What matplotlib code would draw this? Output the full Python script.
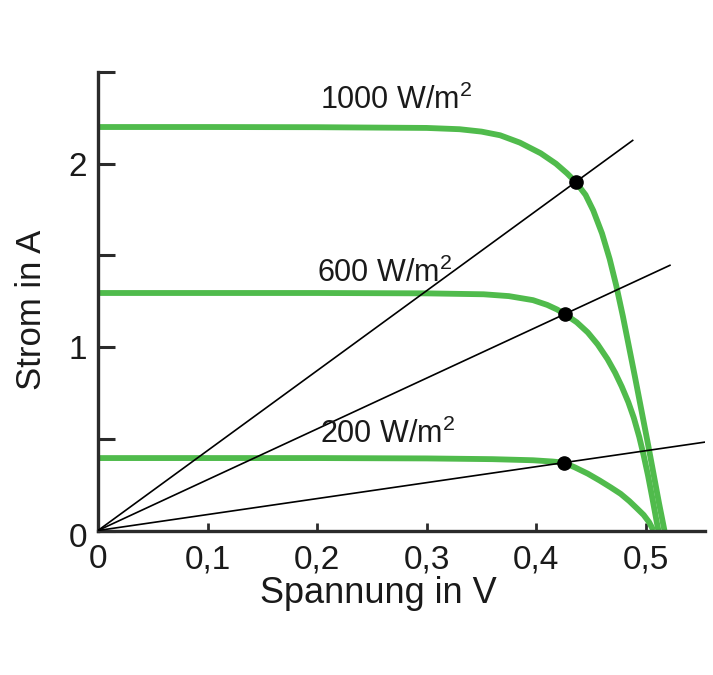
import matplotlib.pyplot as plt
from matplotlib.ticker import FixedLocator, FuncFormatter

plt.rcParams['font.family'] = ['Liberation Sans', 'DejaVu Sans']
plt.rcParams['mathtext.default'] = 'regular'

# Kennlinien (Spannung in V, Strom in A) bei drei Einstrahlungen
u_1000 = [0.000, 0.100, 0.200, 0.300, 0.330, 0.350, 0.367, 0.385, 0.404, 0.418,
          0.428, 0.436, 0.445, 0.452, 0.460, 0.467, 0.473, 0.479, 0.484, 0.490,
          0.496, 0.502, 0.507, 0.512, 0.517]
i_1000 = [2.200, 2.200, 2.199, 2.195, 2.188, 2.175, 2.155, 2.115, 2.057, 2.000,
          1.948, 1.900, 1.830, 1.745, 1.620, 1.480, 1.335, 1.170, 1.020, 0.840,
          0.655, 0.470, 0.310, 0.150, 0.000]

u_600 = [0.000, 0.200, 0.300, 0.352, 0.375, 0.397, 0.410, 0.419, 0.426, 0.437,
         0.447, 0.456, 0.465, 0.472, 0.478, 0.484, 0.489, 0.494, 0.498, 0.502,
         0.506, 0.510, 0.5115]
i_600 = [1.295, 1.295, 1.293, 1.288, 1.278, 1.256, 1.230, 1.205, 1.180, 1.135,
         1.080, 1.015, 0.935, 0.860, 0.785, 0.700, 0.615, 0.510, 0.410, 0.300,
         0.175, 0.045, 0.000]

u_200 = [0.000, 0.200, 0.300, 0.360, 0.397, 0.415, 0.425, 0.435, 0.447, 0.458,
         0.468, 0.477, 0.485, 0.492, 0.498, 0.503, 0.507]
i_200 = [0.395, 0.395, 0.393, 0.389, 0.383, 0.376, 0.370, 0.345, 0.310, 0.272,
         0.235, 0.200, 0.160, 0.120, 0.085, 0.045, 0.000]

# Punkte maximaler Leistung und Endpunkte der Lastgeraden
mpp_u = [0.436, 0.426, 0.425]
mpp_i = [1.900, 1.180, 0.370]
gerade_u = [0.488, 0.522, 0.554]
gerade_i = [2.127, 1.446, 0.482]

labels = ['1000 W/m$^2$', '600 W/m$^2$', '200 W/m$^2$']
label_u = [0.272, 0.262, 0.264]
label_i = [2.300, 1.355, 0.478]

x_ticks = [0, 0.1, 0.2, 0.3, 0.4, 0.5]
y_ticks = [0, 1, 2]
y_minor = [0.5, 1.5, 2.5]

gruen = '#50bb4c'
achse = '#2b2b2b'
schrift = '#1a1a1a'

fig = plt.figure(figsize=(7.13, 6.75), dpi=100)
ax = fig.add_axes([98 / 713, 144.5 / 675, 607 / 713, 458.5 / 675])

for u, i in [(u_1000, i_1000), (u_600, i_600), (u_200, i_200)]:
    ax.plot(u, i, color=gruen, lw=4.2, solid_capstyle='butt', zorder=2)

for ue, ie in zip(gerade_u, gerade_i):
    ax.plot([0, ue], [0, ie], color='black', lw=1.2, zorder=3)

ax.plot(mpp_u, mpp_i, 'o', color='black', ms=9.5, zorder=4)

for txt, x, y in zip(labels, label_u, label_i):
    ax.text(x, y, txt, ha='center', va='baseline', fontsize=22, color=schrift)

ax.set_xlim(0, 0.554)
ax.set_ylim(0, 2.5)

for s in ['top', 'right']:
    ax.spines[s].set_visible(False)
for s in ['left', 'bottom']:
    ax.spines[s].set_linewidth(2.4)
    ax.spines[s].set_color(achse)

ax.xaxis.set_major_locator(FixedLocator(x_ticks))
ax.xaxis.set_major_formatter(FuncFormatter(lambda v, p: '0' if v == 0 else f'{v:.1f}'.replace('.', ',')))
ax.yaxis.set_major_locator(FixedLocator(y_ticks))
ax.yaxis.set_minor_locator(FixedLocator(y_minor))
# die Null der y-Achse wird etwas tiefer gesetzt (siehe unten)
ax.yaxis.set_major_formatter(FuncFormatter(lambda v, p: '' if v == 0 else f'{v:.0f}'))

ax.tick_params(axis='x', direction='in', length=6, width=2, color=achse,
               labelsize=24, pad=10, labelcolor=schrift)
ax.tick_params(axis='y', which='both', direction='in', length=12, width=2.2,
               color=achse, labelsize=24, pad=8, labelcolor=schrift)

ax.text(-0.017, -0.017, '0', transform=ax.transAxes, ha='right', va='center',
        fontsize=24, color=schrift)

ax.set_xlabel('Spannung in V', fontsize=26, color=schrift)
ax.set_ylabel('Strom in A', fontsize=25, color=schrift)
ax.xaxis.set_label_coords(0.462, -0.1)
ax.yaxis.set_label_coords(-0.083, 0.481)

fig.savefig('out.png', dpi=100)
